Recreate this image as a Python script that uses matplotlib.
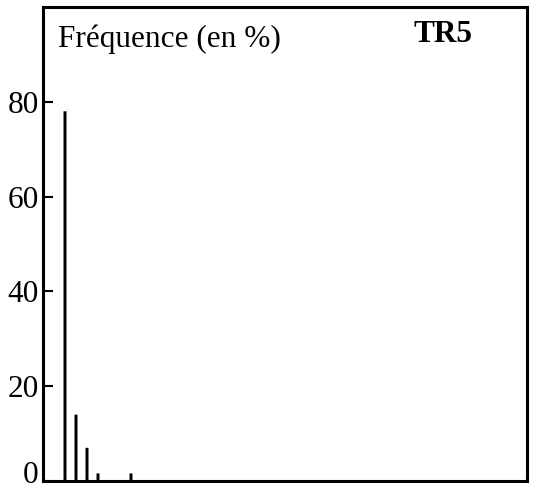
import matplotlib
matplotlib.use("Agg")
import matplotlib.pyplot as plt

# Frequency distribution (percent) per class
classes = [0, 1, 2, 3, 4, 5, 6]
freq = [78, 14, 7, 1.6, 0, 0, 1.6]
yticks = [0, 20, 40, 60, 80]

plt.rcParams['font.family'] = ['Liberation Serif', 'DejaVu Serif']

W, H = 534, 483
fig = plt.figure(figsize=(W / 100, H / 100), dpi=100)
ax = fig.add_axes([43 / W, 2 / H, (527 - 43) / W, (481 - 7) / H])

ax.bar(classes, freq, width=0.27, color='black', snap=False)

ax.set_xlim(-2, 42)
ax.set_ylim(1, 100)
ax.set_xticks([])
ax.set_yticks(yticks)
# the zero label sits just above the frame's lower edge, drawn separately
ax.set_yticklabels([""] + [str(v) for v in yticks[1:]], fontsize=22.5)
ax.tick_params(axis='y', direction='in', length=7, width=1.5, pad=3)
for s in ax.spines.values():
    s.set_linewidth(2.2)

fig.text(38 / W, 1 - 483 / H, str(yticks[0]), fontsize=22.5,
         va='baseline', ha='right')
fig.text(58 / W, 1 - 47 / H, "Fréquence (en %)", fontsize=22.5,
         va='baseline', ha='left')
fig.text(413 / W, 1 - 42 / H, "TR5", fontsize=22.5, fontweight='bold',
         va='baseline', ha='left')

fig.savefig("out.png", dpi=100)
